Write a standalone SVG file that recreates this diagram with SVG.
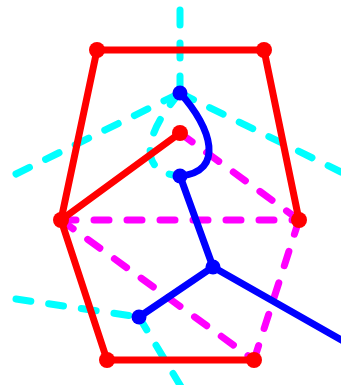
<svg xmlns="http://www.w3.org/2000/svg" width="341" height="385" viewBox="0 0 341 385">
<style>
.red{stroke:#ff0000;stroke-width:7;fill:none;stroke-linecap:round;stroke-linejoin:round}
.mag{stroke:#ff00ff;stroke-width:7;fill:none;stroke-linecap:round;stroke-dasharray:15 18}
.cyan{stroke:#00ffff;stroke-width:7;fill:none;stroke-linecap:round;stroke-dasharray:15 18}
.blue{stroke:#0000ff;stroke-width:7;fill:none;stroke-linecap:round}
.rn{fill:#ff0000}
.bn{fill:#0000ff}
</style>
<rect width="341" height="385" fill="#ffffff"/>
<g id="connectors">
  <path class="cyan" d="M180,10 L180,93"/>
  <path class="cyan" d="M16,174 L180,93"/>
  <path class="cyan" d="M180,93 L341,172"/>
  <path class="cyan" d="M180,93 C148,128 133,172 180,176"/>
  <path class="cyan" d="M16,299 L139,317"/>
  <path class="cyan" d="M139,317 L183,390"/>
  <path class="mag" d="M61,220 L299,220"/>
  <path class="mag" d="M61,220 L254,360"/>
  <path class="mag" d="M299,220 L254,360"/>
  <path class="mag" d="M180,133 L299,220"/>
  <path class="red" d="M61,220 L97,50 L264,50 L299,220"/>
  <path class="red" d="M61,220 L107,360 L254,360"/>
  <path class="red" d="M61,220 L180,133"/>
  <path class="blue" d="M180,93 C212,128 225,172 180,176"/>
  <path class="blue" d="M180,176 L213,267 L139,317"/>
  <path class="blue" d="M213,267 L345,342"/>
</g>
<g id="r1"><circle class="rn" cx="97" cy="50" r="8"/></g>
<g id="r2"><circle class="rn" cx="264" cy="50" r="8"/></g>
<g id="r3"><circle class="rn" cx="61" cy="220" r="8"/></g>
<g id="r4"><circle class="rn" cx="299" cy="220" r="8"/></g>
<g id="r5"><circle class="rn" cx="107" cy="360" r="8"/></g>
<g id="r6"><circle class="rn" cx="254" cy="360" r="8"/></g>
<g id="r7"><circle class="rn" cx="180" cy="133" r="8"/></g>
<g id="b1"><circle class="bn" cx="180" cy="93" r="7.5"/></g>
<g id="b2"><circle class="bn" cx="180" cy="176" r="7.5"/></g>
<g id="b3"><circle class="bn" cx="213" cy="267" r="7.5"/></g>
<g id="b4"><circle class="bn" cx="139" cy="317" r="7.5"/></g>
</svg>
